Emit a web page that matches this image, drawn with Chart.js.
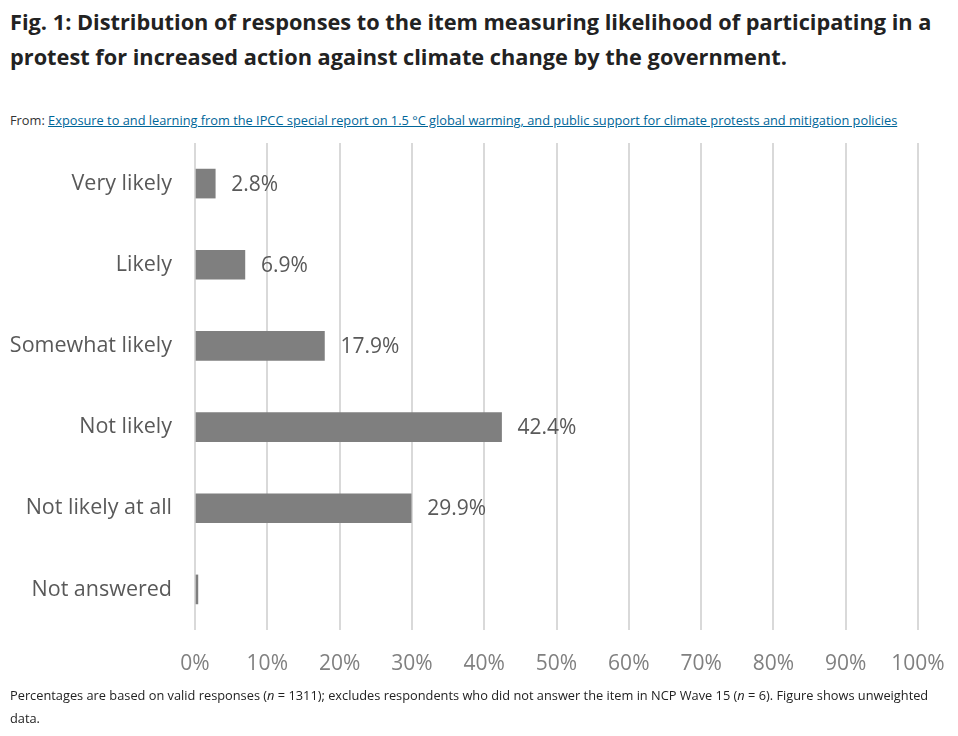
<!DOCTYPE html>
<html>
<head>
<meta charset="utf-8">
<script src="https://cdn.jsdelivr.net/npm/chart.js@4"></script>
<style>
  body { margin: 0; background: #fff; font-family: "Open Sans", sans-serif; color: #222; }
  #page { position: relative; width: 958px; height: 736px; overflow: hidden; }
  h1 { position: absolute; left: 10px; top: 4px; width: 940px; margin: 0; font-size: 21.75px; line-height: 35px; font-weight: 700; color: #222; }
  #from { position: absolute; left: 10px; top: 111px; font-size: 12.8px; color: #333; }
  #from a { color: #006699; }
  #wrap { position: absolute; left: 0; top: 130px; width: 958px; height: 555px; }
  #note { position: absolute; left: 10px; top: 684px; width: 925px; font-size: 12.8px; line-height: 23px; color: #222; }
</style>
</head>
<body>
<div id="page">
  <h1>Fig. 1: Distribution of responses to the item measuring likelihood of participating in a protest for increased action against climate change by the government.</h1>
  <div id="from">From: <a href="#">Exposure to and learning from the IPCC special report on 1.5 °C global warming, and public support for climate protests and mitigation policies</a></div>
  <div id="wrap"><canvas id="chart"></canvas></div>
  <div id="note">Percentages are based on valid responses (<i>n</i> = 1311); excludes respondents who did not answer the item in NCP Wave 15 (<i>n</i> = 6). Figure shows unweighted data.</div>
</div>
<script>
const categories = ["Very likely", "Likely", "Somewhat likely", "Not likely", "Not likely at all", "Not answered"];
const shares = [2.8, 6.9, 17.9, 42.4, 29.9, 0.4];
const shareLabels = ["2.8%", "6.9%", "17.9%", "42.4%", "29.9%", ""];
const xTicks = [0, 10, 20, 30, 40, 50, 60, 70, 80, 90, 100];

// value labels to the right of each bar
const barLabels = {
  id: "barLabels",
  afterDatasetsDraw(chart) {
    const ctx = chart.ctx;
    const meta = chart.getDatasetMeta(0);
    ctx.save();
    ctx.font = "21px 'Open Sans'";
    ctx.fillStyle = "#595959";
    ctx.textAlign = "left";
    ctx.textBaseline = "middle";
    meta.data.forEach(function (bar, i) {
      if (shareLabels[i]) ctx.fillText(shareLabels[i], bar.x + 16, bar.y + 1);
    });
    ctx.restore();
  }
};

new Chart(document.getElementById("chart"), {
  type: "bar",
  data: {
    labels: categories,
    datasets: [{
      data: shares,
      backgroundColor: "#7f7f7f",
      barThickness: 29
    }]
  },
  options: {
    indexAxis: "y",
    responsive: true,
    maintainAspectRatio: false,
    animation: false,
    layout: { padding: { top: 13, right: 40, left: 0, bottom: 0 } },
    plugins: { legend: { display: false }, tooltip: { enabled: false } },
    scales: {
      x: {
        min: 0,
        max: 100,
        afterBuildTicks: function (axis) { axis.ticks = xTicks.map(function (v) { return { value: v }; }); },
        afterFit: function (axis) { axis.height = 55; axis.paddingLeft = 0; axis.paddingRight = 0; },
        grid: { color: "#d9d9d9", lineWidth: 2, drawTicks: false },
        border: { display: false },
        ticks: {
          color: "#808080",
          font: { family: "Open Sans", size: 21 },
          padding: 21,
          callback: function (v) { return v + "%"; }
        }
      },
      y: {
        afterFit: function (axis) { axis.width = 195; axis.paddingTop = 0; axis.paddingBottom = 0; },
        grid: { display: false },
        border: { display: false },
        ticks: {
          color: "#595959",
          font: { family: "Open Sans", size: 21.5 },
          padding: 15
        }
      }
    }
  },
  plugins: [barLabels]
});
</script>
</body>
</html>
